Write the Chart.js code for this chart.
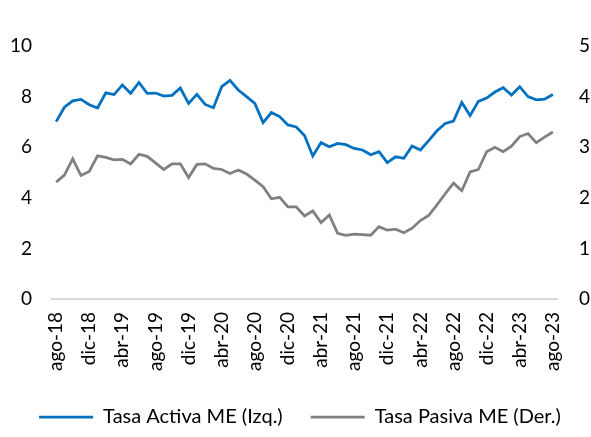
<!DOCTYPE html>
<html>
<head>
<meta charset="utf-8">
<script src="https://cdn.jsdelivr.net/npm/chart.js@4"></script>
<style>
  html, body { margin: 0; padding: 0; background: #fff; overflow: hidden; }
  #wrap { width: 591px; height: 437px; overflow: hidden; }
</style>
</head>
<body>
<div id="wrap"><canvas id="myCanvas" width="600" height="437"></canvas></div>
<script>
let months = ['ene', 'feb', 'mar', 'abr', 'may', 'jun', 'jul', 'ago', 'sep', 'oct', 'nov', 'dic'];

// monthly labels ago-18 .. ago-23
let labels = [];
for (let i = 0; i < 61; i++) {
    let m = (7 + i) % 12;
    let y = 18 + Math.floor((7 + i) / 12);
    labels.push(months[m] + '-' + y);
}

let tasaActiva = [7.01, 7.58, 7.83, 7.89, 7.68, 7.55, 8.15, 8.08, 8.46, 8.13,
    8.56, 8.13, 8.14, 8.02, 8.05, 8.34, 7.73, 8.09, 7.69, 7.56,
    8.39, 8.64, 8.26, 8.00, 7.73, 6.97, 7.37, 7.21, 6.88, 6.80,
    6.46, 5.65, 6.18, 6.02, 6.15, 6.10, 5.95, 5.89, 5.70, 5.82,
    5.39, 5.62, 5.56, 6.05, 5.89, 6.26, 6.65, 6.94, 7.03, 7.77,
    7.25, 7.81, 7.94, 8.18, 8.35, 8.06, 8.39, 8.00, 7.87, 7.90, 8.08];

let tasaPasiva = [2.31, 2.45, 2.77, 2.44, 2.52, 2.83, 2.80, 2.75, 2.76, 2.67,
    2.86, 2.82, 2.69, 2.56, 2.67, 2.67, 2.40, 2.66, 2.67, 2.58,
    2.56, 2.48, 2.55, 2.47, 2.35, 2.22, 1.98, 2.01, 1.82, 1.82,
    1.64, 1.74, 1.51, 1.66, 1.30, 1.26, 1.28, 1.27, 1.26, 1.43,
    1.36, 1.38, 1.31, 1.40, 1.55, 1.65, 1.86, 2.08, 2.29, 2.14,
    2.51, 2.56, 2.91, 3.00, 2.91, 3.02, 3.21, 3.27, 3.09, 3.20, 3.30];

let blue = '#0070C0';
let grey = '#808080';
let tickFont = { family: 'Lato', size: 19 };

let ctx = document.getElementById('myCanvas').getContext('2d');

new Chart(ctx, {
    type: 'line',
    data: {
        labels: labels,
        datasets: [{
            label: 'Tasa Activa ME (Izq.)',
            data: tasaActiva,
            borderColor: blue,
            backgroundColor: blue,
            borderWidth: 2.75,
            yAxisID: 'y'
        }, {
            label: 'Tasa Pasiva ME (Der.)',
            data: tasaPasiva,
            borderColor: grey,
            backgroundColor: grey,
            borderWidth: 2.75,
            yAxisID: 'y1'
        }]
    },
    options: {
        responsive: false,
        animation: false,
        elements: {
            line: { tension: 0 },
            point: { radius: 0 }
        },
        layout: {
            padding: { left: 0, right: 0, top: 46, bottom: 0 }
        },
        plugins: {
            tooltip: { enabled: false },
            legend: {
                position: 'bottom',
                labels: {
                    usePointStyle: true,
                    pointStyle: 'line',
                    pointStyleWidth: 54,
                    padding: 28,
                    color: '#000',
                    font: { family: 'Lato', size: 20 }
                }
            }
        },
        scales: {
            x: {
                offset: true,
                grid: { display: false },
                border: { display: true, color: '#d9d9d9', width: 2 },
                ticks: {
                    autoSkip: false,
                    minRotation: 90,
                    maxRotation: 90,
                    padding: 5,
                    color: '#000',
                    font: tickFont,
                    callback: function (val, i) {
                        return i % 4 === 0 ? labels[i] : '';
                    }
                },
                afterFit: function (scale) {
                    // rotated labels would otherwise push the plot inwards
                    scale.paddingLeft = 0;
                    scale.paddingRight = 0;
                    scale.height = 80;
                }
            },
            y: {
                position: 'left',
                min: 0,
                max: 10,
                grid: { display: false },
                border: { display: false },
                ticks: {
                    stepSize: 2,
                    padding: 12,
                    color: '#000',
                    font: tickFont
                },
                afterFit: function (scale) {
                    scale.width = 52;
                }
            },
            y1: {
                position: 'right',
                min: 0,
                max: 5,
                grid: { display: false },
                border: { display: false },
                ticks: {
                    stepSize: 1,
                    padding: 14,
                    color: '#000',
                    font: tickFont
                },
                afterFit: function (scale) {
                    scale.width = 43;
                }
            }
        }
    }
});
</script>
</body>
</html>
